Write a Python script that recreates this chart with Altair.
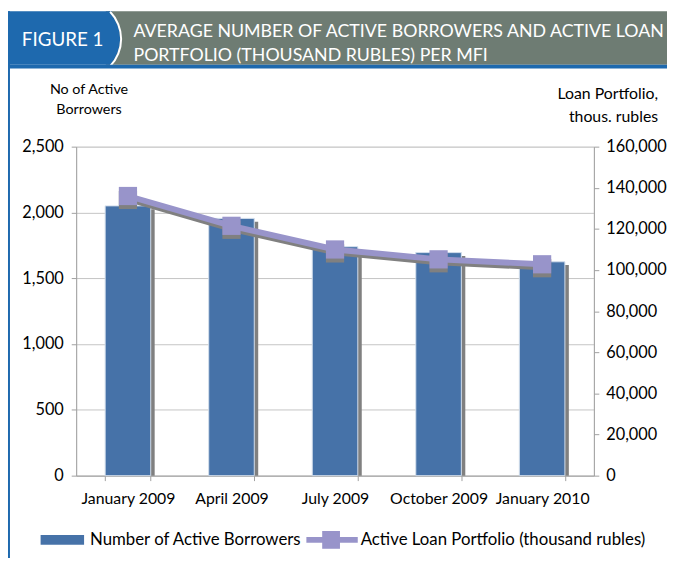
import altair as alt
import pandas as pd

# ---- data ----
months = ["January 2009", "April 2009", "July 2009", "October 2009", "January 2010"]
borrowers = [2050, 1955, 1740, 1695, 1625]
loan_portfolio = [136000, 121500, 110000, 105200, 102800]

left_ticks = [0, 500, 1000, 1500, 2000, 2500]
right_ticks = [0, 20000, 40000, 60000, 80000, 100000, 120000, 140000, 160000]

title_lines = ["AVERAGE NUMBER OF ACTIVE BORROWERS AND ACTIVE LOAN",
               "PORTFOLIO (THOUSAND RUBLES) PER MFI"]
figure_label = "FIGURE 1"
left_title = ["No of Active", "Borrowers"]
right_title = ["Loan Portfolio,", "thous. rubles"]
legend_labels = ["Number of Active Borrowers", "Active Loan Portfolio (thousand rubles)"]

df = pd.DataFrame({"month": months, "borrowers": borrowers, "loan": loan_portfolio})
one = pd.DataFrame({"d": [0]})

FONT = "Lato"
BAR_BLUE = "#4672A8"
LAV = "#9894CA"
SHADOW = "#808080"
HEAD_BLUE = "#1E69AE"
HEAD_GREY = "#6E7C73"
AXIS_GREY = "#A0A0A0"

W, H = 524, 333

xscale = alt.Scale(paddingInner=0.56, paddingOuter=0.28)
yl = alt.Scale(domain=[0, 2500])
yr = alt.Scale(domain=[0, 160000])

x_axis = alt.Axis(title=None, tickBand="extent", labelAngle=0, labelFontSize=16,
                  labelFont=FONT, labelColor="#000000", domainColor=AXIS_GREY,
                  tickColor=AXIS_GREY, tickSize=5, labelPadding=10, grid=False)
yl_axis = alt.Axis(title=None, values=left_ticks, format=",.0f", grid=True,
                   gridColor="#C4C4C4", domainColor=AXIS_GREY, tickColor=AXIS_GREY,
                   tickSize=5, labelPadding=8, labelFontSize=16.5, labelFont=FONT,
                   labelColor="#000000")
yr_axis = alt.Axis(orient="right", title=None, values=right_ticks, format=",.0f",
                   grid=False, domainColor=AXIS_GREY, tickColor=AXIS_GREY,
                   tickSize=5, labelPadding=7, labelFontSize=16.5, labelFont=FONT,
                   labelColor="#000000")

X = alt.X("month:N", sort=months, scale=xscale, axis=x_axis)

# ---- bars (left axis) ----
bar_shadow = alt.Chart(df).transform_calculate(
    btop="datum.borrowers - 25"
).mark_bar(color=SHADOW, xOffset=4).encode(
    x=X,
    y=alt.Y("btop:Q", scale=yl, axis=yl_axis),
    y2=alt.datum(0),
)
bar_main = alt.Chart(df).mark_bar(color=BAR_BLUE, stroke="#D3DEEC", strokeWidth=1).encode(
    x=X,
    y=alt.Y("borrowers:Q", scale=yl, axis=yl_axis),
)
bars = alt.layer(bar_shadow, bar_main)

# ---- line (right axis) ----
YR = alt.Y("loan:Q", scale=yr, axis=yr_axis)
line_shadow = alt.Chart(df).mark_line(color=SHADOW, strokeWidth=6, yOffset=3).encode(x=X, y=YR)
sq_shadow = alt.Chart(df).mark_square(color=SHADOW, size=340, opacity=1, filled=True,
                                      yOffset=4).encode(x=X, y=YR)
line_main = alt.Chart(df).mark_line(color=LAV, strokeWidth=6).encode(x=X, y=YR)
sq_main = alt.Chart(df).mark_square(color=LAV, size=340, opacity=1, filled=True).encode(x=X, y=YR)
lines = alt.layer(line_shadow, sq_shadow, line_main, sq_main)


# ---- decorations (header, axis titles, legend) ----
def rect(x, x2, y, y2, color):
    return alt.Chart(one).mark_rect(color=color).encode(
        x=alt.value(x), x2=alt.value(x2), y=alt.value(y), y2=alt.value(y2))


def text(t, x, y, size=16, color="#000000", align="left", baseline="middle"):
    return alt.Chart(one).mark_text(text=t, font=FONT, fontSize=size, color=color,
                                    align=align, baseline=baseline).encode(
        x=alt.value(x), y=alt.value(y))


head_grey = rect(30, 600, -137, -83, HEAD_GREY)
head_blue = rect(-72, 36, -137, -83, HEAD_BLUE)
head_arc = alt.Chart(one).mark_arc(color=HEAD_BLUE, radius=38.5, radius2=0,
                                   theta=0.84, theta2=2.30).encode(
    x=alt.value(6), y=alt.value(-109))
head_curve = alt.Chart(one).mark_arc(color="#FFFFFF", radius=40.5, radius2=38.5,
                                     theta=0.80, theta2=2.34).encode(
    x=alt.value(6), y=alt.value(-109))
head_line = rect(-70, 600, -83, -79, HEAD_BLUE)
left_line = rect(-70, -67, -137, 430, HEAD_BLUE)

fig_txt = text(figure_label, -55, -102, size=19, color="#FFFFFF", baseline="alphabetic")
title1 = text(title_lines[0], 58, -111, size=18, color="#FFFFFF", baseline="alphabetic")
title2 = text(title_lines[1], 58, -87, size=18, color="#FFFFFF", baseline="alphabetic")

lt1 = text(left_title[0], 13, -57, size=14.5, align="center")
lt2 = text(left_title[1], 13, -37, size=14.5, align="center")
rt1 = text(right_title[0], 589, -53, size=16, align="right")
rt2 = text(right_title[1], 589, -30, size=16, align="right")

leg_rect = rect(-36, 8, 393, 403, BAR_BLUE)
leg_t1 = text(legend_labels[0], 14, 398, size=17)
leg_line = rect(233, 285, 395, 401, LAV)
leg_sq = rect(249, 267, 389, 407, LAV)
leg_t2 = text(legend_labels[1], 288, 398, size=17)

decos = alt.layer(
    head_grey, head_blue, head_arc, head_curve, head_line, left_line,
    fig_txt, title1, title2, lt1, lt2, rt1, rt2,
    leg_rect, leg_t1, leg_line, leg_sq, leg_t2,
)

chart = alt.layer(bars, lines, decos).resolve_scale(y="independent").properties(
    width=W, height=H,
    autosize=alt.AutoSizeParams(type="none"),
    padding={"left": 69, "top": 137, "right": 74, "bottom": 80},
).configure_view(stroke=None).configure(background="#FFFFFF")

chart.save("out.html", embed_options={"renderer": "svg", "actions": False})
